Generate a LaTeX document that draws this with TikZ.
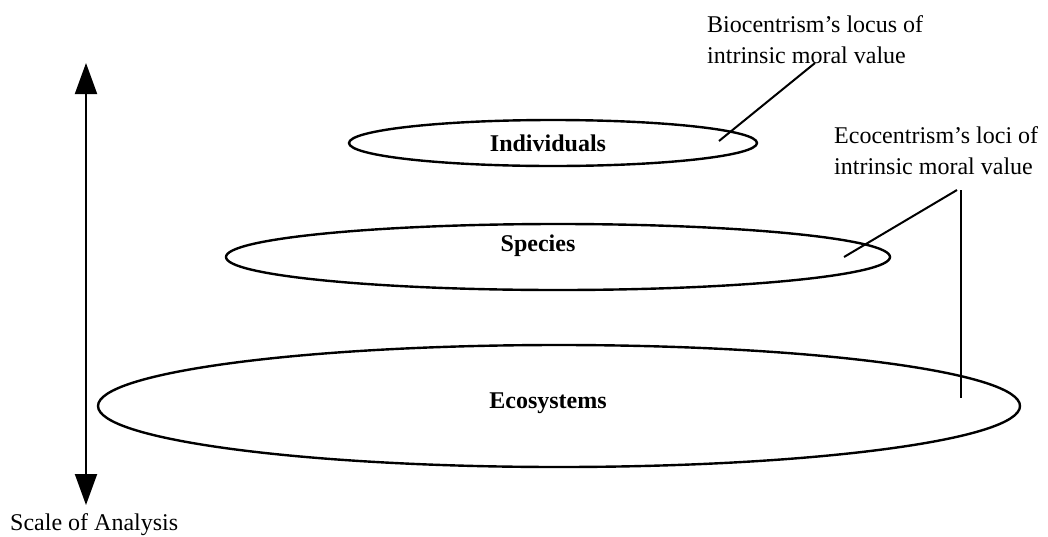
\documentclass[tikz,border=0pt]{standalone}
\usepackage{fontspec}
\setmainfont{Liberation Serif}
\usetikzlibrary{shapes,arrows.meta}

\begin{document}
\begin{tikzpicture}[x=1pt,y=-1pt]
\tikzstyle{ring}=[
	ellipse,
	draw,
	line width=2.4pt,
	inner sep=0pt ]
\tikzstyle{level}=[font=\fontsize{24}{31}\selectfont\bfseries, inner sep=0pt]
\tikzstyle{note}=[font=\fontsize{24}{31}\selectfont, align=left, inner sep=0pt, anchor=west]
\tikzstyle{leader}=[line width=2pt]
\useasboundingbox (0,0) rectangle (1048,536);
\node[ring, minimum width=408pt, minimum height=46pt] (indring) at (553,143) {};
\node[ring, minimum width=664pt, minimum height=66pt] (spring) at (558,257) {};
\node[ring, minimum width=922pt, minimum height=122pt] (ecoring) at (559,406) {};
\node[level] (ind) at (548,143) {Individuals};
\node[level] (sp) at (538,246) {Species};
\node[level] (eco) at (548,403) {Ecosystems};
\node[note] (bio) at (707,40) {Biocentrism’s locus of\\intrinsic moral value};
\node[note] (ecoc) at (834,151) {Ecocentrism’s loci of\\intrinsic moral value};
\node[note] (scale) at (10,525) {Scale of Analysis};
\coordinate (top) at (86,63);
\coordinate (bottom) at (86,505);
\coordinate (biofoot) at (815,63);
\coordinate (indpt) at (719,141);
\coordinate (ecofoot) at (957,190);
\coordinate (sppt) at (844,257);
\coordinate (vfoot) at (961,190);
\coordinate (ecopt) at (961,398);
\draw[line width=2pt, {Triangle[width=22pt,length=31pt]}-{Triangle[width=22pt,length=31pt]}] (top) -- (bottom);
\draw[leader] (biofoot) -- (indpt);
\draw[leader] (ecofoot) -- (sppt);
\draw[leader] (vfoot) -- (ecopt);
\end{tikzpicture}
\end{document}
